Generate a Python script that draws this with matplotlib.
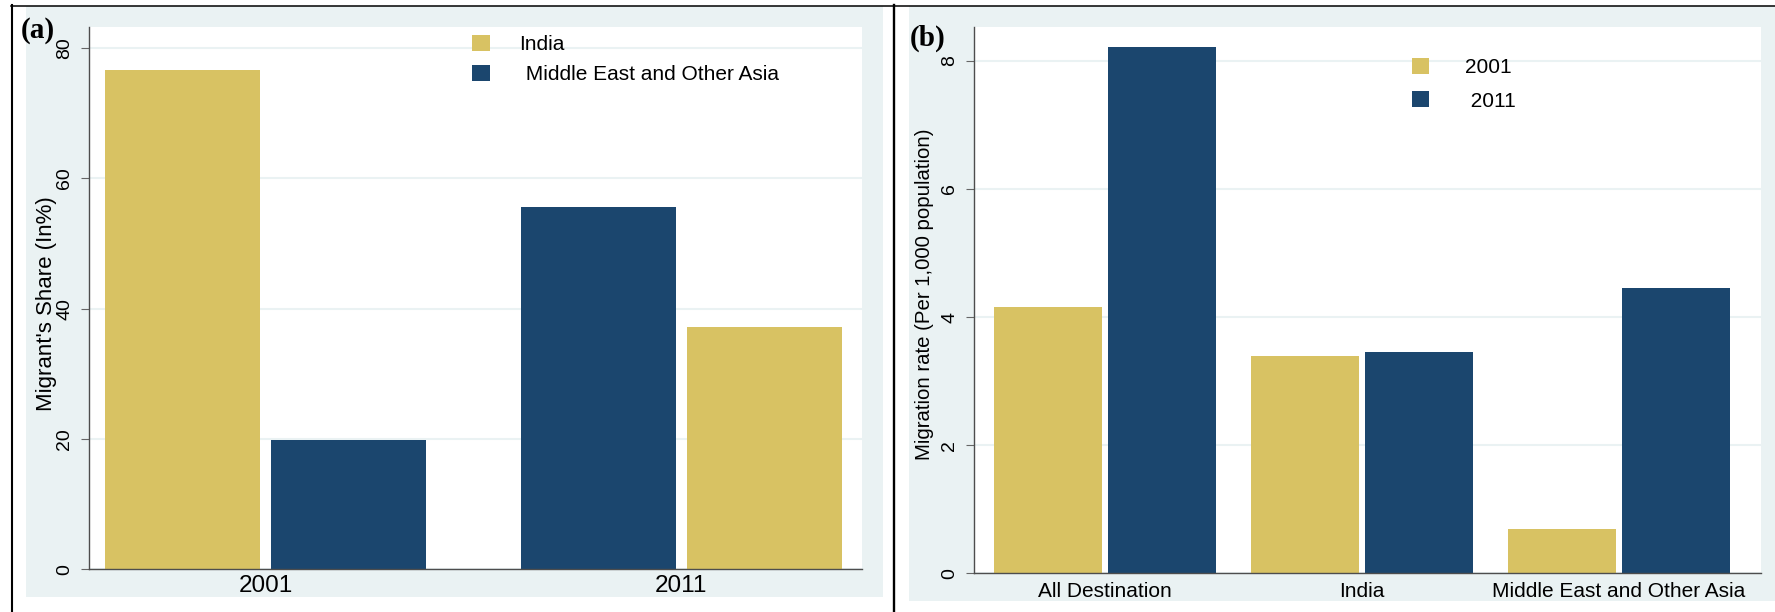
#!/usr/bin/env python3
"""
Migrant share and migration rate by destination, 2001 vs 2011.
"""
import matplotlib
matplotlib.use('Agg')
import matplotlib.pyplot as plt
from matplotlib.lines import Line2D
from matplotlib.patches import Rectangle
import numpy as np

# (a) migrant's share by destination (%)
years = ['2001', '2011']
share_india = [76.6, 37.1]
share_mideast = [19.9, 55.6]
share_ticks = [0, 20, 40, 60, 80]

# (b) migration rate per 1,000 population
destinations = ['All Destination', 'India', 'Middle East and Other Asia']
rate_2001 = [4.16, 3.40, 0.69]
rate_2011 = [8.22, 3.46, 4.45]
rate_ticks = [0, 2, 4, 6, 8]

GOLD = '#D8C263'
NAVY = '#1B466E'
BG = '#EAF2F3'
AXIS = '#4D4D4D'

W, H = 1775, 612
plt.rcParams['font.family'] = ['Liberation Sans', 'DejaVu Sans']
fig = plt.figure(figsize=(W / 100, H / 100), dpi=100)


def px_box(left, top, right, bottom):
    """Figure-fraction rect from pixel edges (top-left origin)."""
    return [left / W, 1 - bottom / H, (right - left) / W, (bottom - top) / H]


# panel backgrounds (Stata s2color look)
for l, t, r, b in [(26, 6, 883, 597), (909, 6, 1775, 601)]:
    x0, y0, w, h = px_box(l, t, r, b)
    fig.patches.append(Rectangle((x0, y0), w, h, transform=fig.transFigure,
                                 facecolor=BG, edgecolor='none', zorder=-5))

# outer frame lines
fig.add_artist(Line2D([11 / W, 1], [1 - 5.7 / H] * 2, transform=fig.transFigure,
                      color='black', lw=1.1))
fig.add_artist(Line2D([12 / W] * 2, [0, 1 - 5 / H], transform=fig.transFigure,
                      color='black', lw=1.5))
fig.add_artist(Line2D([894.3 / W] * 2, [0, 1 - 5 / H], transform=fig.transFigure,
                      color='black', lw=1.7))


def style_axes(ax, ticks):
    ax.set_zorder(2)
    ax.set_facecolor('white')
    for s in ['top', 'right']:
        ax.spines[s].set_visible(False)
    for s in ['left', 'bottom']:
        ax.spines[s].set_color(AXIS)
        ax.spines[s].set_linewidth(1.0)
    ax.set_yticks(ticks)
    ax.tick_params(axis='y', direction='out', length=5.8, width=0.8,
                   color='#666666', pad=5.5, labelsize=14, labelrotation=90)
    for lbl in ax.get_yticklabels():
        lbl.set_va('center')
    ax.yaxis.grid(True, color=BG, lw=1.5)
    ax.set_axisbelow(True)


# ---- (a) Migrant's share ----
ax_a = fig.add_axes(px_box(89, 27, 861.5, 569.3))
x = np.arange(len(years))
w_a, off_a = 0.373, 0.2
india_first = np.array(share_india) >= np.array(share_mideast)
ax_a.bar(x + np.where(india_first, -off_a, off_a), share_india, w_a,
         color=GOLD, label='India')
ax_a.bar(x + np.where(india_first, off_a, -off_a), share_mideast, w_a,
         color=NAVY, label=' Middle East and Other Asia')
ax_a.set_xlim(-0.425, 1.434)
ax_a.set_ylim(0, 83.2)
style_axes(ax_a, share_ticks)
ax_a.set_xticks(x)
ax_a.set_xticklabels(years)
ax_a.tick_params(axis='x', length=0, pad=4, labelsize=17.5)
ax_a.set_ylabel("Migrant's Share (In%)", fontsize=16, va='center')
ax_a.yaxis.set_label_coords(-0.0544, 0.49)
ax_a.legend(loc='upper left', bbox_to_anchor=(472 / W, 1 - 35 / H),
            bbox_transform=fig.transFigure, frameon=False, fontsize=15,
            borderpad=0, borderaxespad=0, handlelength=0.864,
            handleheight=0.77, handletextpad=1.42, labelspacing=0.53)

# ---- (b) Migration rate ----
ax_b = fig.add_axes(px_box(974, 27, 1761, 573.3))
xb = np.arange(len(destinations))
w_b, off_b = 0.42, 0.222
ax_b.bar(xb - off_b, rate_2001, w_b, color=GOLD, label='2001')
ax_b.bar(xb + off_b, rate_2011, w_b, color=NAVY, label=' 2011')
ax_b.set_xlim(-0.51, 2.553)
ax_b.set_ylim(0, 8.53)
style_axes(ax_b, rate_ticks)
ax_b.set_xticks(xb)
ax_b.set_xticklabels(destinations)
ax_b.tick_params(axis='x', length=0, pad=6, labelsize=15)
ax_b.set_ylabel('Migration rate (Per 1,000 population)', fontsize=14.7, va='center')
ax_b.yaxis.set_label_coords(-0.0623, 0.511)
ax_b.legend(loc='upper left', bbox_to_anchor=(1411.7 / W, 1 - 58 / H),
            bbox_transform=fig.transFigure, frameon=False, fontsize=15,
            borderpad=0, borderaxespad=0, handlelength=0.83,
            handleheight=0.8, handletextpad=1.73, labelspacing=0.68)

# panel tags
fig.text(21 / W, 1 - 30 / H, '(a)', family='Liberation Serif', weight='bold',
         fontsize=21, ha='left', va='center', zorder=5)
fig.text(910 / W, 1 - 38 / H, '(b)', family='Liberation Serif', weight='bold',
         fontsize=21, ha='left', va='center', zorder=5)

fig.savefig('out.png', dpi=100)
